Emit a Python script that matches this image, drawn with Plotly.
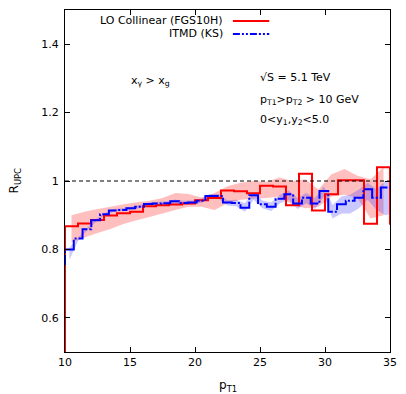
import numpy as np
import plotly.graph_objects as go

# ---------------- data ----------------
# LO collinear (FGS10H): 1 GeV bins, first bin starts at 9 GeV (below the cut), last bin 35-36 (clipped)
red_start, red_width = 9.0, 1.0
red_values = [0.0,
              0.868, 0.876, 0.886, 0.899, 0.906, 0.910, 0.926, 0.929, 0.931, 0.934,
              0.944, 0.950, 0.972, 0.970, 0.964, 0.986, 0.984, 0.929, 1.021, 0.914,
              0.961, 1.002, 1.002, 0.875, 1.040,
              0.875]
# uncertainty band of the collinear result, at bin centres 10.5 ... 34.5
red_band_x = [10.5, 11.5, 12.5, 13.5, 14.5, 15.5, 16.5, 17.5, 18.5, 19.5, 20.5, 21.5, 22.5,
              23.5, 24.5, 25.5, 26.5, 27.5, 28.5, 29.5, 30.5, 31.5, 32.5, 33.5, 34.5]
red_band_hi = [0.900, 0.910, 0.918, 0.925, 0.932, 0.938, 0.942, 0.950, 0.965, 0.962, 0.952, 0.965, 0.985,
               0.995, 1.000, 0.998, 1.010, 1.000, 1.005, 0.975, 1.020, 1.035, 1.015, 1.005, 1.040]
red_band_lo = [0.820, 0.835, 0.848, 0.860, 0.874, 0.885, 0.895, 0.905, 0.915, 0.925, 0.925, 0.915, 0.935,
               0.945, 0.948, 0.950, 0.955, 0.930, 0.920, 0.925, 0.955, 0.960, 0.950, 0.890, 0.900]

# ITMD (KS): finer bins
blue_width = 0.675
blue_start = 10.0 - blue_width
blue_values = [0.757,
               0.800, 0.832, 0.859, 0.885, 0.903, 0.914, 0.915, 0.920, 0.925, 0.933,
               0.934, 0.935, 0.941, 0.936, 0.937, 0.942, 0.956, 0.956, 0.937, 0.936,
               0.922, 0.958, 0.932, 0.925, 0.948, 0.961, 0.934, 0.951, 0.934, 0.971,
               0.910, 0.932, 0.942, 0.951, 0.976, 0.951, 0.981, 0.981]
blue_band_hi = [0.805, 0.835, 0.862, 0.888, 0.906, 0.918, 0.920, 0.925, 0.930, 0.937,
                0.939, 0.940, 0.946, 0.942, 0.943, 0.948, 0.962, 0.962, 0.944, 0.945,
                0.935, 0.966, 0.943, 0.937, 0.960, 0.972, 0.950, 0.965, 0.950, 0.985,
                0.930, 0.955, 0.960, 0.975, 0.995, 0.975, 1.000, 0.995]
blue_band_lo = [0.770, 0.825, 0.855, 0.880, 0.899, 0.910, 0.912, 0.916, 0.920, 0.928,
                0.930, 0.930, 0.935, 0.930, 0.932, 0.936, 0.948, 0.948, 0.928, 0.926,
                0.910, 0.945, 0.920, 0.912, 0.935, 0.945, 0.918, 0.935, 0.918, 0.955,
                0.890, 0.905, 0.905, 0.920, 0.945, 0.915, 0.900, 0.905]

ref_level = 1.0
x_ticks = [10, 15, 20, 25, 30, 35]
y_ticks = [0.6, 0.8, 1.0, 1.2, 1.4]
y_tick_text = ["0.6", "0.8", "1", "1.2", "1.4"]
x_range = [10, 35]
y_range = [0.5, 1.5]

label_red = "LO Collinear (FGS10H)"
label_blue = "ITMD (KS)"

# ---------------- helpers ----------------
def histeps(start, width, values):
    edges = start + width * np.arange(len(values) + 1)
    xs = list(edges[:-1]) + [edges[-1]]
    ys = list(values) + [values[-1]]
    return xs, ys

def band(xc, hi, lo):
    return list(xc) + list(xc)[::-1], list(hi) + list(lo)[::-1]

blue_centres = blue_start + blue_width * (np.arange(1, len(blue_values)) + 0.5)

FONT = "DejaVu Sans"
FS = 11
fig = go.Figure()

bx, by = band(red_band_x, red_band_hi, red_band_lo)
fig.add_trace(go.Scatter(x=bx, y=by, fill="toself", mode="none",
                         fillcolor="rgba(255,0,0,0.25)", showlegend=False, hoverinfo="skip"))
bx, by = band(blue_centres, blue_band_hi, blue_band_lo)
fig.add_trace(go.Scatter(x=bx, y=by, fill="toself", mode="none",
                         fillcolor="rgba(40,40,255,0.25)", showlegend=False, hoverinfo="skip"))

rx, ry = histeps(red_start, red_width, red_values)
fig.add_trace(go.Scatter(x=rx, y=ry, mode="lines", line=dict(color="#ff0000", width=2, shape="hv"),
                         name=label_red, showlegend=False))
bxs, bys = histeps(blue_start, blue_width, blue_values)
fig.add_trace(go.Scatter(x=bxs, y=bys, mode="lines",
                         line=dict(color="#0000ff", width=2, shape="hv", dash="18px,2px,2px,2px"),
                         name=label_blue, showlegend=False))

# dashed reference line
fig.add_shape(type="line", xref="paper", x0=0, x1=1, yref="y", y0=ref_level, y1=ref_level,
              line=dict(color="black", width=1, dash="4px,3px"), layer="above")

# legend (text left of the sample, gnuplot-style)
L, R, T, B = 65, 396, 9, 352
def px(x):
    return (x - L) / (R - L)
def py(y):
    return (B - y) / (B - T)

for lab, yy, col, dash in [(label_red, 20, "#ff0000", "solid"),
                           (label_blue, 33, "#0000ff", "7px,2px,2px,2px,2px,2px")]:
    fig.add_annotation(xref="paper", yref="paper", x=px(228), y=py(yy), text=lab,
                       showarrow=False, xanchor="right", yanchor="middle",
                       font=dict(family=FONT, size=FS, color="black"))
    fig.add_shape(type="line", xref="paper", yref="paper", x0=px(236), x1=px(273),
                  y0=py(yy), y1=py(yy), line=dict(color=col, width=2, dash=dash))

ann_font = dict(family=FONT, size=FS, color="black")
fig.add_annotation(xref="paper", yref="paper", x=px(130), y=py(80),
                   text="x<sub>γ</sub> > x<sub>g</sub>", showarrow=False,
                   xanchor="left", yanchor="middle", font=ann_font)
fig.add_annotation(xref="paper", yref="paper", x=px(262), y=py(77),
                   text="√S = 5.1 TeV", showarrow=False, xanchor="left", yanchor="middle", font=ann_font)
fig.add_annotation(xref="paper", yref="paper", x=px(262), y=py(99),
                   text="p<sub>T1</sub>>p<sub>T2</sub> > 10 GeV", showarrow=False,
                   xanchor="left", yanchor="middle", font=ann_font)
fig.add_annotation(xref="paper", yref="paper", x=px(262), y=py(119),
                   text="0<y<sub>1</sub>,y<sub>2</sub><5.0", showarrow=False,
                   xanchor="left", yanchor="middle", font=ann_font)

# axis titles
fig.add_annotation(xref="paper", yref="paper", x=px(14), y=py(180), text="R<sub>UPC</sub>",
                   textangle=-90, showarrow=False, xanchor="center", yanchor="middle",
                   font=dict(family=FONT, size=FS + 1, color="black"))
fig.add_annotation(xref="paper", yref="paper", x=px(231), y=py(386), text="p<sub>T1</sub>",
                   showarrow=False, xanchor="center", yanchor="middle",
                   font=dict(family=FONT, size=FS + 1, color="black"))

axis_common = dict(showline=True, linecolor="black", linewidth=1, mirror="allticks",
                   ticks="inside", ticklen=5, tickcolor="black", tickwidth=1,
                   showgrid=False, zeroline=False,
                   tickfont=dict(family=FONT, size=FS, color="black"))
fig.update_xaxes(range=x_range, tickvals=x_ticks, **axis_common)
fig.update_yaxes(range=y_range, tickvals=y_ticks, ticktext=y_tick_text, ticklabelstandoff=3,
                 **axis_common)

fig.update_layout(width=406, height=394, margin=dict(l=L, r=406 - R, t=T, b=394 - B),
                  plot_bgcolor="white", paper_bgcolor="white", showlegend=False,
                  font=dict(family=FONT))

fig.write_html("out.html")
